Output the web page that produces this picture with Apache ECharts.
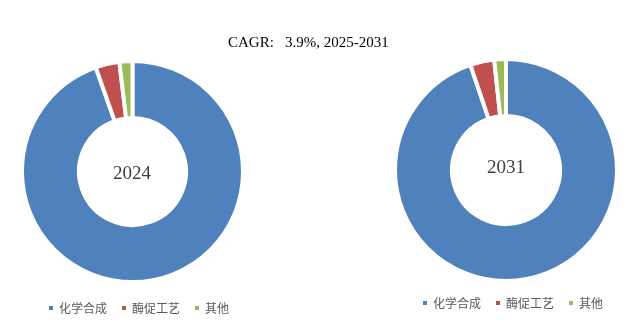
<!DOCTYPE html>
<html>
<head>
<meta charset="utf-8">
<script src="https://cdn.jsdelivr.net/npm/echarts@6/dist/echarts.min.js"></script>
<style>
html,body{margin:0;padding:0;background:#fff;}
#chart{width:643px;height:328px;}
</style>
</head>
<body>
<div id="chart"></div>
<script>
var categories = ['化学合成', '酶促工艺', '其他'];
var values2024 = [94.6, 3.5, 1.9];
var values2031 = [94.8, 3.5, 1.7];
var colors = ['#4F81BD', '#C0504D', '#9BBB59'];
var titleText = 'CAGR:   3.9%, 2025-2031';
var yearLabels = ['2024', '2031'];

var chart = echarts.init(document.getElementById('chart'), null, {renderer: 'canvas'});
function mk(vals) {
  return categories.map(function (c, i) { return {name: c, value: vals[i]}; });
}
var legendText = {fontSize: 12, color: '#595959', fontFamily: 'Noto Sans CJK SC'};
chart.setOption({
  animation: false,
  color: colors,
  legend: [
    {data: categories, left: 47, top: 302, padding: 0, icon: 'rect', itemWidth: 6, itemHeight: 6, itemGap: 13, textStyle: legendText},
    {data: categories, left: 421, top: 297, padding: 0, icon: 'rect', itemWidth: 6, itemHeight: 6, itemGap: 13, textStyle: legendText}
  ],
  graphic: [
    {type: 'text', left: 228, top: 36, style: {text: titleText, fontFamily: 'Liberation Serif', fontSize: 15, fill: '#000'}},
    {type: 'text', left: 113, top: 165, style: {text: yearLabels[0], fontFamily: 'Liberation Serif', fontSize: 19, fill: '#404040'}},
    {type: 'text', left: 487, top: 159, style: {text: yearLabels[1], fontFamily: 'Liberation Serif', fontSize: 19, fill: '#404040'}}
  ],
  series: [
    {
      type: 'pie', center: [132.5, 171.5], radius: [53.5, 110.5], startAngle: 90, clockwise: true,
      label: {show: false}, labelLine: {show: false}, silent: true,
      itemStyle: {borderColor: '#fff', borderWidth: 4},
      data: mk(values2024)
    },
    {
      type: 'pie', center: [506, 170], radius: [54, 111], startAngle: 90, clockwise: true,
      label: {show: false}, labelLine: {show: false}, silent: true,
      itemStyle: {borderColor: '#fff', borderWidth: 4},
      data: mk(values2031)
    }
  ]
});
</script>
</body>
</html>
